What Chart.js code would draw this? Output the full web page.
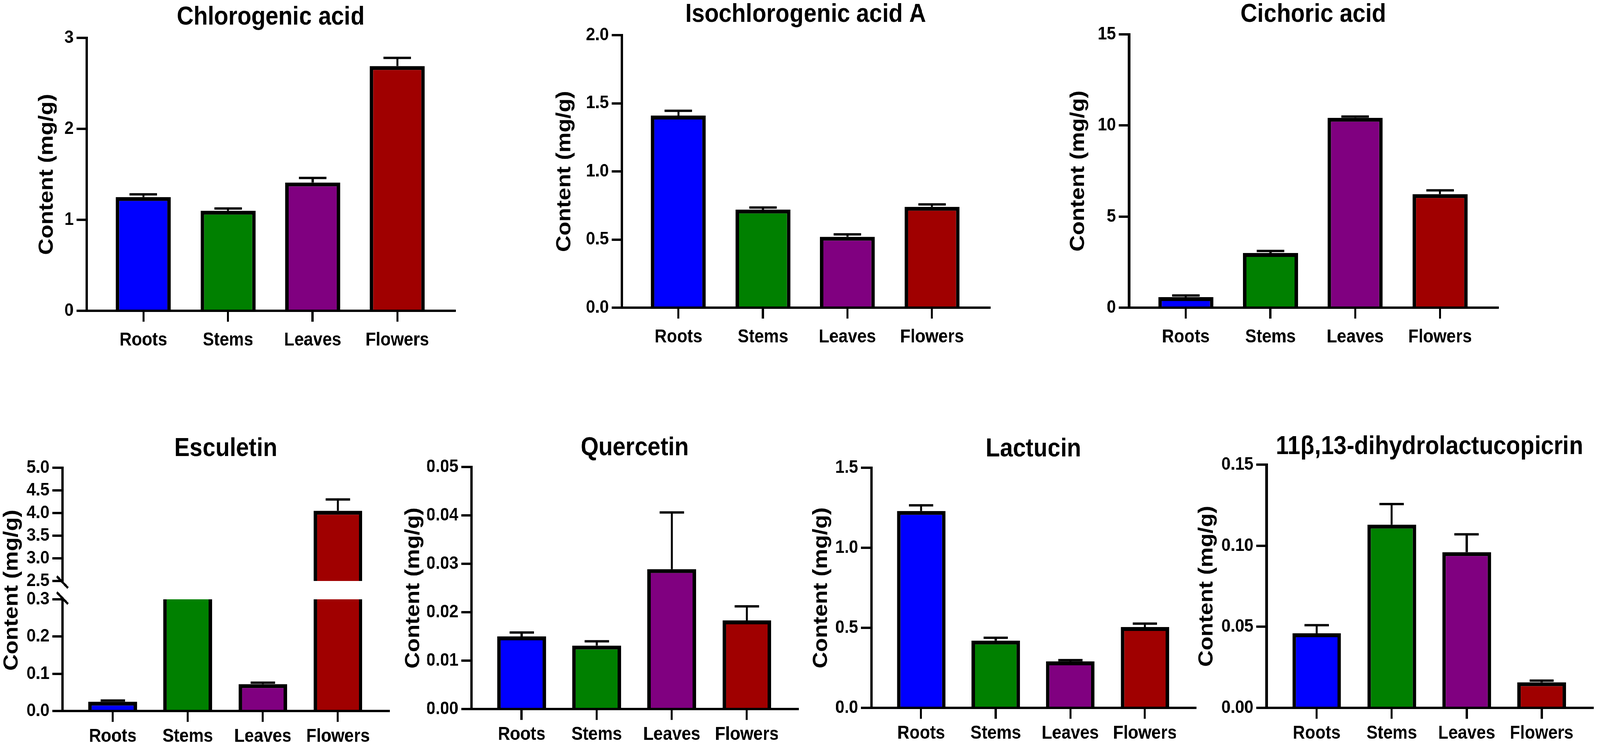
<!DOCTYPE html>
<html>
<head>
<meta charset="utf-8">
<script src="https://cdn.jsdelivr.net/npm/chart.js@4.4.0/dist/chart.umd.min.js"></script>
<style>
  html, body { margin: 0; padding: 0; background: #fff; overflow: hidden; width: 100%; height: 100%; }
  #frame { position: relative; width: 100vw; height: 100vh; overflow: hidden; }
  #stage { width: 4562px; height: 1903px; position: absolute; left: 0; top: 0; transform-origin: 0 0; }
  canvas { position: absolute; }
</style>
</head>
<body>
<div id="frame">
<div id="stage">
<canvas id="chlorogenic"></canvas>
<canvas id="isochlorogenic"></canvas>
<canvas id="cichoric"></canvas>
<canvas id="esculetin"></canvas>
<canvas id="quercetin"></canvas>
<canvas id="lactucin"></canvas>
<canvas id="dihydro"></canvas>
</div>
</div>
<script>
// categories and colours
const categories = ['Roots', 'Stems', 'Leaves', 'Flowers'];
const barColors = ['#0000ff', '#008000', '#800080', '#a00000'];

// content (mg/g), mean and SD
const chlorogenicMean = [1.25, 1.10, 1.41, 2.69];
const chlorogenicSd = [0.03, 0.025, 0.05, 0.09];
const chlorogenicTicks = [0, 1, 2, 3];

const isochlorogenicMean = [1.41, 0.72, 0.52, 0.74];
const isochlorogenicSd = [0.035, 0.015, 0.018, 0.018];
const isochlorogenicTicks = [0, 0.5, 1.0, 1.5, 2.0];

const cichoricMean = [0.58, 3.0, 10.42, 6.23];
const cichoricSd = [0.09, 0.11, 0.07, 0.21];
const cichoricTicks = [0, 5, 10, 15];

// stems value sits inside the axis break (above 0.3, below 2.5)
const esculetinMean = [0.025, 1.0, 0.072, 4.05];
const esculetinSd = [0.003, 0.05, 0.004, 0.25];
const esculetinLowTicks = [0, 0.1, 0.2, 0.3];
const esculetinHighTicks = [2.5, 3.0, 3.5, 4.0, 4.5, 5.0];

const quercetinMean = [0.0150, 0.0131, 0.0289, 0.0183];
const quercetinSd = [0.0008, 0.0009, 0.0117, 0.0029];
const quercetinTicks = [0, 0.01, 0.02, 0.03, 0.04, 0.05];

const lactucinMean = [1.23, 0.42, 0.29, 0.505];
const lactucinSd = [0.035, 0.018, 0.008, 0.021];
const lactucinTicks = [0, 0.5, 1.0, 1.5];

const dihydroMean = [0.046, 0.113, 0.096, 0.0158];
const dihydroSd = [0.005, 0.0127, 0.011, 0.001];
const dihydroTicks = [0, 0.05, 0.10, 0.15];

const FONT = "'Liberation Sans', Arial, Helvetica, sans-serif";
const TITLE_SIZE = 66, YTITLE_SIZE = 58, TICK_SIZE = 47, CAT_SIZE = 48;
const TITLE_PAD = 2, BW = 10;

// fit the 4562 x 1903 drawing into whatever the css viewport is
const stage = document.getElementById('stage');
const fx = window.innerWidth / 4562, fy = window.innerHeight / 1903;
stage.style.transform = 'scale(' + fx + ',' + fy + ')';

Chart.defaults.font.family = FONT;
Chart.defaults.color = '#000';

// error bars: line from the bar top up to mean + SD, with a cap half the bar wide
const errorBarPlugin = {
  id: 'errorBars',
  afterDatasetsDraw(chart) {
    const ctx = chart.ctx;
    chart.data.datasets.forEach((ds, i) => {
      if (!ds.errorBars) return;
      const meta = chart.getDatasetMeta(i);
      const ys = chart.scales[meta.yAxisID];
      meta.data.forEach((bar, j) => {
        const m = ds.means[j], sd = ds.errorBars[j];
        if (sd == null || m > ys.max || m < ys.min) return;
        const y0 = ys.getPixelForValue(m);
        const y1 = ys.getPixelForValue(m + sd);
        const half = bar.width / 4;
        ctx.save();
        ctx.strokeStyle = '#000';
        ctx.lineWidth = 6;
        ctx.beginPath();
        ctx.moveTo(bar.x, y0);
        ctx.lineTo(bar.x, y1);
        ctx.moveTo(bar.x - half, y1);
        ctx.lineTo(bar.x + half, y1);
        ctx.stroke();
        ctx.restore();
      });
    });
  }
};

// the two slashes of the broken y axis
const axisBreakPlugin = {
  id: 'axisBreak',
  afterDraw(chart) {
    const ctx = chart.ctx, lo = chart.scales.yLow, hi = chart.scales.yHigh;
    const x = lo.right;
    ctx.save();
    ctx.strokeStyle = '#000';
    ctx.lineWidth = 6;
    [hi.bottom + 3, lo.top - 3].forEach(y => {
      ctx.beginPath();
      ctx.moveTo(x - 16, y - 15);
      ctx.lineTo(x + 16, y + 15);
      ctx.stroke();
    });
    ctx.restore();
  }
};

function place(id, f) {
  const cv = document.getElementById(id);
  const left = Math.round(f.labelX - YTITLE_SIZE / 2);
  const top = Math.round(f.titleY - TITLE_SIZE / 2 - TITLE_PAD);
  const bottom = f.bottom + f.xAxisH;
  cv.width = f.right + 10 - left;
  cv.height = bottom - top;
  cv.style.left = left + 'px';
  cv.style.top = top + 'px';
  return { cv, yAxisW: f.left - left, titleBottom: f.top - top - TITLE_PAD - TITLE_SIZE };
}

function xScale(f) {
  return {
    type: 'linear', min: -0.67, max: 3.68, offset: false,
    afterBuildTicks: s => { s.ticks = categories.map((c, i) => ({ value: i })); },
    afterFit: s => { s.height = f.xAxisH; },
    grid: { offset: false, drawOnChartArea: false, tickLength: 28, color: '#000', lineWidth: 6 },
    border: { color: '#000', width: 6 },
    ticks: {
      callback: v => categories[v],
      font: { size: CAT_SIZE, weight: 'bold', lineHeight: 1 },
      color: '#000', padding: f.labelPad, maxRotation: 0, autoSkip: false
    }
  };
}

function yScale(ticks, dec, width, withTitle) {
  return {
    min: ticks[0], max: ticks[ticks.length - 1],
    afterBuildTicks: s => { s.ticks = ticks.map(v => ({ value: v })); },
    afterFit: s => { s.width = width; },
    grid: { drawOnChartArea: false, tickLength: 29, color: '#000', lineWidth: 6 },
    border: { color: '#000', width: 7 },
    ticks: {
      callback: v => v.toFixed(dec), autoSkip: false,
      font: { size: TICK_SIZE, weight: 'bold', lineHeight: 1 }, color: '#000', padding: 8
    },
    title: {
      display: withTitle, text: 'Content (mg/g)', color: '#000', padding: 0,
      font: { size: YTITLE_SIZE, weight: 'bold', lineHeight: 1 }
    }
  };
}

function commonOptions(title, p) {
  return {
    responsive: false,
    animation: false,
    layout: { padding: { left: 0, right: 10, top: 0, bottom: 0 }, autoPadding: false },
    plugins: {
      legend: { display: false },
      tooltip: { enabled: false },
      title: {
        display: true, text: title, fullSize: false, color: '#000',
        font: { size: TITLE_SIZE, weight: 'bold', lineHeight: 1 },
        padding: { top: TITLE_PAD, bottom: p.titleBottom }
      }
    }
  };
}

function barChart(id, title, mean, sd, ticks, dec, f) {
  const p = place(id, f);
  const options = commonOptions(title, p);
  options.scales = { x: xScale(f), y: yScale(ticks, dec, p.yAxisW, true) };
  return new Chart(p.cv, {
    type: 'bar',
    data: {
      datasets: [{
        data: mean.map((v, i) => ({ x: i, y: v })),
        backgroundColor: barColors,
        borderColor: '#000',
        borderWidth: BW,
        barPercentage: 1,
        categoryPercentage: 0.65,
        means: mean,
        errorBars: sd
      }]
    },
    options,
    plugins: [errorBarPlugin]
  });
}

function brokenChart(id, title, mean, sd, lowTicks, highTicks, dec, f) {
  const p = place(id, f);
  const lowMax = lowTicks[lowTicks.length - 1], highMin = highTicks[0];
  const options = commonOptions(title, p);
  const yLow = yScale(lowTicks, dec, p.yAxisW, false);
  const yHigh = yScale(highTicks, dec, p.yAxisW, false);
  const yGap = yScale([0, 1], dec, p.yAxisW, true);
  yGap.ticks.display = false;
  yGap.grid = { display: false };
  yGap.border = { display: false };
  Object.assign(yLow, { stack: 'esc', stackWeight: f.lowH });
  Object.assign(yGap, { stack: 'esc', stackWeight: f.gapH });
  Object.assign(yHigh, { stack: 'esc', stackWeight: f.highH });
  options.scales = { x: xScale(f), yLow, yGap, yHigh };
  const common = {
    backgroundColor: barColors, borderColor: '#000', borderSkipped: false,
    barPercentage: 1, categoryPercentage: 0.65, grouped: false,
    means: mean, errorBars: sd
  };
  return new Chart(p.cv, {
    type: 'bar',
    data: {
      datasets: [
        Object.assign({
          yAxisID: 'yLow',
          data: mean.map((v, i) => ({ x: i, y: [0, Math.min(v, lowMax)] })),
          borderWidth: c => ({ top: mean[c.dataIndex] > lowMax ? 0 : BW, left: BW, right: BW, bottom: 0 })
        }, common),
        Object.assign({
          yAxisID: 'yHigh',
          data: mean.map((v, i) => ({ x: i, y: v > highMin ? [highMin, v] : null })),
          borderWidth: { top: BW, left: BW, right: BW, bottom: 0 }
        }, common)
      ]
    },
    options,
    plugins: [errorBarPlugin, axisBreakPlugin]
  });
}

// panel frames: plot area edges, y title centre, title centre (drawing pixels)
const topRow = { xAxisH: 120, labelPad: 24 };
const bottomRow = { labelPad: 14 };

barChart('chlorogenic', 'Chlorogenic acid', chlorogenicMean, chlorogenicSd, chlorogenicTicks, 0,
  Object.assign({ left: 247, right: 1297, top: 97, bottom: 796, labelX: 134, titleY: 45 }, topRow));
barChart('isochlorogenic', 'Isochlorogenic acid A', isochlorogenicMean, isochlorogenicSd, isochlorogenicTicks, 1,
  Object.assign({ left: 1773, right: 2821, top: 90, bottom: 788, labelX: 1610, titleY: 38 }, topRow));
barChart('cichoric', 'Cichoric acid', cichoricMean, cichoricSd, cichoricTicks, 0,
  Object.assign({ left: 3219, right: 4270, top: 88, bottom: 788, labelX: 3075, titleY: 38 }, topRow));

brokenChart('esculetin', 'Esculetin', esculetinMean, esculetinSd, esculetinLowTicks, esculetinHighTicks, 1,
  Object.assign({ left: 178, right: 1109, top: 1198, bottom: 1821, labelX: 34, titleY: 1150,
    xAxisH: 1903 - 1821, highH: 290, gapH: 47, lowH: 286 }, bottomRow));
barChart('quercetin', 'Quercetin', quercetinMean, quercetinSd, quercetinTicks, 2,
  Object.assign({ left: 1344, right: 2275, top: 1196, bottom: 1816, labelX: 1179, titleY: 1148, xAxisH: 1903 - 1816 }, bottomRow));
barChart('lactucin', 'Lactucin', lactucinMean, lactucinSd, lactucinTicks, 1,
  Object.assign({ left: 2484, right: 3409, top: 1198, bottom: 1813, labelX: 2342, titleY: 1151, xAxisH: 1903 - 1813 }, bottomRow));
barChart('dihydro', '11β,13-dihydrolactucopicrin', dihydroMean, dihydroSd, dihydroTicks, 2,
  Object.assign({ left: 3611, right: 4541, top: 1190, bottom: 1813, labelX: 3441, titleY: 1145, xAxisH: 1903 - 1813 }, bottomRow));
</script>
</body>
</html>
